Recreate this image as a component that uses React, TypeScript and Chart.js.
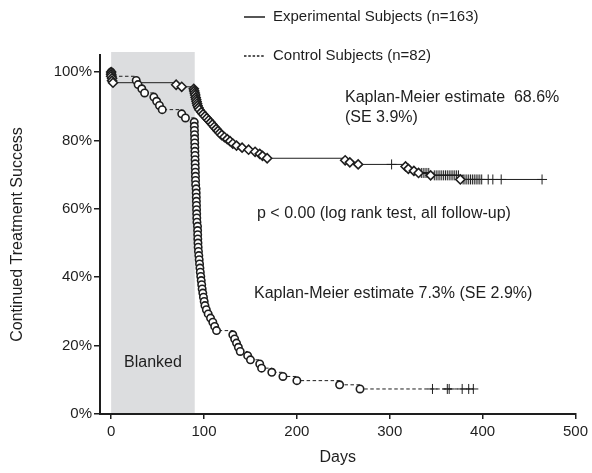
import React, { useEffect, useRef } from 'react';
import { Chart, registerables } from 'chart.js';

Chart.register(...registerables);

// ---------- data ----------
const startDay = 0;
const startSurv = 100;

// Experimental subjects (n=163): event times (days) and survival (%) after each event
const expEventDays = [0, 0, 1, 1, 2, 70, 76, 89, 89.5, 90, 90.5, 91, 91.5, 92, 92.5, 93, 94, 95, 97, 99, 101, 103, 105, 107, 109, 111, 113, 115, 117, 119, 122, 125, 128, 131, 135, 141, 148, 155, 160, 163, 168, 252, 257, 266, 317, 320, 326, 331, 344, 376];
const expEventSurv = [99.4, 98.8, 98.2, 97.5, 96.9, 96.3, 95.7, 95.1, 94.5, 93.9, 93.3, 92.6, 92.0, 91.4, 90.8, 90.2, 89.6, 89.0, 88.3, 87.7, 87.1, 86.5, 85.9, 85.3, 84.7, 84.0, 83.4, 82.8, 82.2, 81.6, 81.0, 80.4, 79.8, 79.1, 78.5, 77.9, 77.3, 76.7, 76.1, 75.5, 74.8, 74.2, 73.6, 73.0, 72.4, 71.7, 71.1, 70.5, 69.8, 68.6];
const expCensorDays = [302, 334, 336, 338, 340, 342, 348, 350, 352, 354, 356, 358, 360, 362, 364, 366, 368, 370, 372, 374, 379, 381, 383, 385, 387, 389, 391, 393, 395, 397, 399, 406, 411, 420, 464];
const expCensorSurv = [73.0, 70.5, 70.5, 70.5, 70.5, 70.5, 69.8, 69.8, 69.8, 69.8, 69.8, 69.8, 69.8, 69.8, 69.8, 69.8, 69.8, 69.8, 69.8, 69.8, 68.6, 68.6, 68.6, 68.6, 68.6, 68.6, 68.6, 68.6, 68.6, 68.6, 68.6, 68.6, 68.6, 68.6, 68.6];

// Control subjects (n=82)
const ctlEventDays = [1, 27, 29, 33, 36, 46, 49, 52, 55, 76, 80,
  89.5, 89.6, 89.7, 89.8, 89.9, 90.0, 90.1, 90.2, 90.3, 90.4, 90.5, 90.6, 90.7, 90.8, 90.9, 91.0,
  91.5, 91.6, 91.7, 91.8, 91.9, 92.0, 92.1, 92.2, 92.4, 93.0, 93.1, 93.2, 93.3, 93.5, 93.7, 94.0,
  94.4, 94.8, 95.2, 95.6, 96.0, 96.5, 97.0, 97.5, 98.0, 98.7, 99.4, 100.2, 101.0, 102.5, 104.5,
  107, 109.5, 111.5, 113.5,
  131, 133, 135, 137, 139, 147, 150, 160, 162, 173, 185, 200, 246, 268];
const ctlEventSurv = [98.78, 97.56, 96.34, 95.12, 93.90, 92.68, 91.46, 90.24, 89.02, 87.80, 86.59,
  85.37, 84.15, 82.93, 81.71, 80.49, 79.27, 78.05, 76.83, 75.61, 74.39, 73.17, 71.95, 70.73, 69.51, 68.29, 67.07,
  65.85, 64.63, 63.41, 62.20, 60.98, 59.76, 58.54, 57.32, 56.10, 54.88, 53.66, 52.44, 51.22, 50.00, 48.78, 47.56,
  46.34, 45.12, 43.90, 42.68, 41.46, 40.24, 39.02, 37.80, 36.59, 35.37, 34.15, 32.93, 31.71, 30.49, 29.27,
  28.05, 26.83, 25.61, 24.39,
  23.17, 21.95, 20.73, 19.51, 18.29, 17.07, 15.85, 14.63, 13.41, 12.20, 10.98, 9.76, 8.54, 7.32];
const ctlCensorDays = [346, 362, 364, 378, 385, 390];
const ctlCensorSurv = [7.32, 7.32, 7.32, 7.32, 7.32, 7.32];

const xTicks = [0, 100, 200, 300, 400, 500];
const yTicks = [0, 20, 40, 60, 80, 100];
const blankedStart = 0;
const blankedEnd = 90;

const legendLabels = ['Experimental Subjects (n=163)', 'Control Subjects (n=82)'];
const annotationExp = ['Kaplan-Meier estimate  68.6%', '(SE 3.9%)'];
const annotationP = 'p < 0.00 (log rank test, all follow-up)';
const annotationCtl = 'Kaplan-Meier estimate 7.3% (SE 2.9%)';

// ---------- helpers ----------
type Pt = { x: number; y: number };
const zip = (xs: number[], ys: number[]): Pt[] => xs.map((x, i) => ({ x, y: ys[i] }));
const curve = (evX: number[], evY: number[], cX: number[], cY: number[]): Pt[] => {
  const pts = [{ x: startDay, y: startSurv }, ...zip(evX, evY), ...zip(cX, cY)];
  return pts
    .map((p, i) => ({ p, i }))
    .sort((a, b) => (a.p.x - b.p.x) || (b.p.y - a.p.y) || (a.i - b.i))
    .map((o) => o.p);
};

const INK = '#1e1e1e';
const FONT = "'Liberation Sans', Arial, Helvetica, sans-serif";

const overlayPlugin = {
  id: 'overlay',
  beforeDraw(chart: any) {
    const { ctx, chartArea, scales } = chart;
    const x = scales.x;
    const y = scales.y;
    const x0 = x.getPixelForValue(blankedStart);
    const x1 = x.getPixelForValue(blankedEnd);
    ctx.save();
    ctx.fillStyle = '#dcdddf';
    ctx.fillRect(x0, chartArea.top - 3, x1 - x0, chartArea.bottom - chartArea.top + 3);
    ctx.fillStyle = INK;
    ctx.font = `16px ${FONT}`;
    ctx.textAlign = 'center';
    ctx.textBaseline = 'middle';
    ctx.fillText('Blanked', (x0 + x1) / 2, y.getPixelForValue(15));
    ctx.restore();
  },
  afterDraw(chart: any) {
    const { ctx } = chart;
    ctx.save();
    ctx.fillStyle = INK;
    ctx.strokeStyle = INK;
    ctx.font = `16px ${FONT}`;
    ctx.textAlign = 'left';
    ctx.textBaseline = 'middle';
    // annotations
    ctx.fillText(annotationExp[0], 345, 98);
    ctx.fillText(annotationExp[1], 345, 118);
    ctx.fillText(annotationP, 257, 214);
    ctx.fillText(annotationCtl, 254, 294);
    // legend
    ctx.font = `15px ${FONT}`;
    ctx.lineWidth = 1.5;
    ctx.beginPath();
    ctx.moveTo(244, 17);
    ctx.lineTo(265, 17);
    ctx.stroke();
    ctx.fillText(legendLabels[0], 273, 17);
    ctx.setLineDash([2.5, 1.8]);
    ctx.beginPath();
    ctx.moveTo(244, 56);
    ctx.lineTo(264, 56);
    ctx.stroke();
    ctx.setLineDash([]);
    ctx.fillText(legendLabels[1], 273, 56);
    ctx.restore();
  },
};

export default function App() {
  const ref = useRef<HTMLCanvasElement | null>(null);

  useEffect(() => {
    if (!ref.current) return;
    Chart.defaults.font.family = FONT;
    const expLine = curve(expEventDays, expEventSurv, expCensorDays, expCensorSurv);
    const ctlLine = curve(ctlEventDays, ctlEventSurv, ctlCensorDays, ctlCensorSurv);
    const chart = new Chart(ref.current, {
      type: 'scatter',
      data: {
        datasets: [
          {
            label: 'exp-markers',
            data: [{ x: startDay, y: startSurv }, ...zip(expEventDays, expEventSurv)],
            showLine: false,
            pointStyle: 'rectRot',
            pointRadius: 4.5,
            pointBackgroundColor: '#ffffff',
            pointBorderColor: INK,
            pointBorderWidth: 1.6,
            order: 0,
          },
          {
            label: 'ctl-markers',
            data: [{ x: startDay, y: startSurv }, ...zip(ctlEventDays, ctlEventSurv)],
            showLine: false,
            pointStyle: 'circle',
            pointRadius: 3.7,
            pointBackgroundColor: '#ffffff',
            pointBorderColor: INK,
            pointBorderWidth: 1.6,
            order: 1,
          },
          {
            label: 'censored',
            data: [...zip(expCensorDays, expCensorSurv), ...zip(ctlCensorDays, ctlCensorSurv)],
            showLine: false,
            pointStyle: 'cross',
            pointRadius: 5,
            pointBorderColor: INK,
            pointBorderWidth: 1,
            order: 2,
          },
          {
            label: 'Experimental Subjects (n=163)',
            data: expLine,
            showLine: true,
            stepped: 'before',
            borderColor: INK,
            borderWidth: 1,
            pointRadius: 0,
            fill: false,
            order: 3,
          },
          {
            label: 'Control Subjects (n=82)',
            data: ctlLine,
            showLine: true,
            stepped: 'before',
            borderColor: INK,
            borderWidth: 1,
            borderDash: [3.5, 2.5],
            pointRadius: 0,
            fill: false,
            order: 4,
          },
        ],
      },
      options: {
        animation: false,
        responsive: false,
        devicePixelRatio: 1,
        layout: { padding: { top: 55, right: 15, left: 0, bottom: 0 } },
        plugins: { legend: { display: false }, tooltip: { enabled: false } },
        scales: {
          x: {
            type: 'linear',
            min: -12,
            max: 500,
            afterBuildTicks: (s: any) => { s.ticks = xTicks.map((v) => ({ value: v })); },
            afterFit: (s: any) => { s.height = 59; },
            grid: { drawOnChartArea: false, drawTicks: true, tickLength: 5, color: INK, lineWidth: 1.5 },
            border: { display: true, color: INK, width: 2 },
            ticks: { color: INK, font: { size: 15 }, padding: 4, maxRotation: 0, autoSkip: false },
            title: { display: true, text: 'Days', color: INK, font: { size: 16 }, padding: { top: 1, bottom: 6 } },
          },
          y: {
            type: 'linear',
            min: 0,
            max: 105,
            afterBuildTicks: (s: any) => { s.ticks = yTicks.map((v) => ({ value: v })); },
            afterFit: (s: any) => { s.width = 100; },
            grid: { drawOnChartArea: false, drawTicks: true, tickLength: 6, color: INK, lineWidth: 1.5 },
            border: { display: true, color: INK, width: 2 },
            ticks: { color: INK, font: { size: 15 }, padding: 2, callback: (v: any) => `${v}%` },
            title: { display: true, text: 'Continued Treatment Success', color: INK, font: { size: 16 }, padding: { top: 8, bottom: 4 } },
          },
        },
      },
      plugins: [overlayPlugin],
    });
    return () => chart.destroy();
  }, []);

  return (
    <div style={{ position: 'absolute', left: 0, top: 0, width: 592, height: 473, background: '#ffffff' }}>
      <canvas ref={ref} width={592} height={473} />
    </div>
  );
}
